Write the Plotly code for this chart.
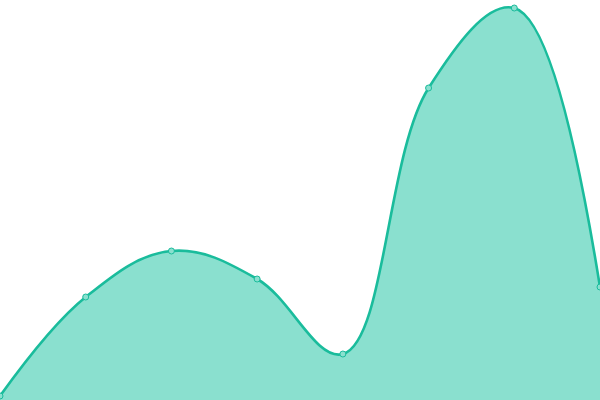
import plotly.graph_objects as go

x_vals = [0, 1, 2, 3, 4, 5, 6, 7]
y_vals = [4, 103, 149, 121, 46, 312, 392, 113]

fig = go.Figure()
fig.add_trace(go.Scatter(
    x=x_vals, y=y_vals,
    mode="lines+markers",
    line=dict(shape="spline", smoothing=1.1, color="#1abc9c", width=2.6),
    fill="tozeroy",
    fillcolor="#8ae0cf",
    marker=dict(size=6, color="#8ae0cf", line=dict(color="#1abc9c", width=1)),
    hoverinfo="skip",
))
fig.update_layout(
    width=600, height=400,
    margin=dict(l=0, r=0, t=0, b=0),
    paper_bgcolor="white", plot_bgcolor="white",
    showlegend=False,
    xaxis=dict(range=[0, 7], visible=False, fixedrange=True),
    yaxis=dict(range=[0, 400], visible=False, fixedrange=True),
)
fig.write_html(
    "out.html",
    config={"displayModeBar": False},
    post_script="document.body.style.margin='0';document.body.style.overflow='hidden';",
)
